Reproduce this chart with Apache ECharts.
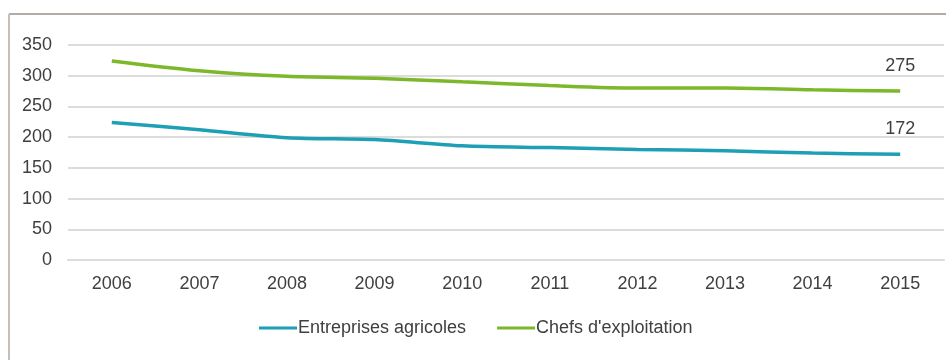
<!DOCTYPE html>
<html>
<head>
<meta charset="utf-8">
<script src="https://cdn.jsdelivr.net/npm/echarts@6/dist/echarts.min.js"></script>
<style>
html,body{margin:0;padding:0;background:#fff;}
#chart{width:946px;height:360px;}
</style>
</head>
<body>
<div id="chart"></div>
<script>
const years = ['2006','2007','2008','2009','2010','2011','2012','2013','2014','2015'];
const entreprises = [224, 212, 199, 196, 186, 183, 180, 178, 174, 172];
const chefs = [324, 308, 299, 296, 290, 284, 280, 280, 277, 275];
const seriesNames = ['Entreprises agricoles', "Chefs d'exploitation"];
const colors = ['#1f9fb6', '#7cb82a'];

const FONT = '"Liberation Sans", Arial, sans-serif';
const TXT = '#404040';
const FS = 18;

function withEndLabel(arr) {
  return arr.map((v, i) => i === arr.length - 1
    ? { value: v, label: { show: true, position: 'top', distance: 16, color: TXT, fontSize: FS, fontFamily: FONT } }
    : v);
}

const chart = echarts.init(document.getElementById('chart'), null, { renderer: 'canvas' });
chart.setOption({
  animation: false,
  backgroundColor: '#fff',
  color: colors,
  graphic: [
    { type: 'line', shape: { x1: 9, y1: 14, x2: 946, y2: 14 }, style: { stroke: '#b3aca6', lineWidth: 2 } },
    { type: 'line', shape: { x1: 9, y1: 14, x2: 9, y2: 360 }, style: { stroke: '#c8c0b8', lineWidth: 2 } }
  ],
  grid: { left: 68, right: 2, top: 45, bottom: 100, containLabel: false },
  legend: {
    left: 259, top: 319, padding: 0,
    icon: 'rect', itemWidth: 38, itemHeight: 3, itemGap: 31,
    textStyle: { color: TXT, fontSize: FS, fontFamily: FONT, padding: [0, 0, 0, -4] },
    data: seriesNames
  },
  xAxis: {
    type: 'category', data: years, boundaryGap: true,
    axisLine: { show: true, lineStyle: { color: '#dcdcdc', width: 2 } },
    axisTick: { show: false },
    axisLabel: { color: TXT, fontSize: FS, fontFamily: FONT, margin: 15 }
  },
  yAxis: {
    type: 'value', min: 0, max: 350, interval: 50,
    axisLine: { show: false }, axisTick: { show: false },
    axisLabel: { color: TXT, fontSize: FS, fontFamily: FONT, margin: 16 },
    splitLine: { lineStyle: { color: '#dcdcdc', width: 2 } }
  },
  series: [
    { name: seriesNames[0], type: 'line', data: withEndLabel(entreprises), smooth: 0.3, showSymbol: true, showAllSymbol: true, symbol: 'circle', symbolSize: 0.01, lineStyle: { width: 3.5, color: colors[0] } },
    { name: seriesNames[1], type: 'line', data: withEndLabel(chefs), smooth: 0.3, showSymbol: true, showAllSymbol: true, symbol: 'circle', symbolSize: 0.01, lineStyle: { width: 3.5, color: colors[1] } }
  ]
});
</script>
</body>
</html>
